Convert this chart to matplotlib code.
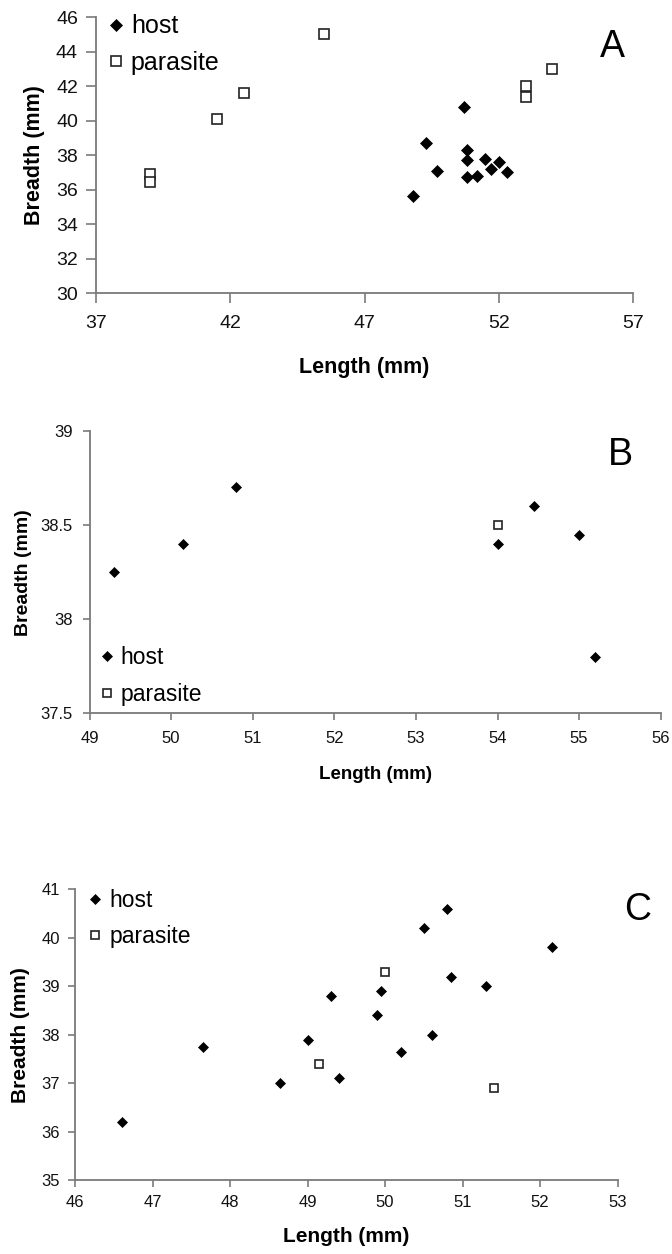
import matplotlib
matplotlib.use("Agg")
import matplotlib.pyplot as plt

plt.rcParams["font.family"] = ["Liberation Sans", "DejaVu Sans"]

# panel A
A_host_len = [50.7, 49.3, 50.8, 50.8, 51.5, 52.0, 51.7, 52.3, 49.7, 50.8, 51.2, 48.8]
A_host_br = [40.8, 38.7, 38.3, 37.7, 37.8, 37.6, 37.2, 37.0, 37.1, 36.7, 36.8, 35.6]
A_par_len = [39.0, 39.0, 41.5, 42.5, 45.5, 54.0, 53.0, 53.0]
A_par_br = [36.9, 36.45, 40.1, 41.6, 45.0, 43.0, 42.0, 41.35]
A_xticks = [37, 42, 47, 52, 57]
A_yticks = [30, 32, 34, 36, 38, 40, 42, 44, 46]

# panel B
B_host_len = [49.3, 50.15, 50.8, 54.45, 54.0, 55.0, 55.2]
B_host_br = [38.25, 38.4, 38.7, 38.6, 38.4, 38.45, 37.8]
B_par_len = [54.0]
B_par_br = [38.5]
B_xticks = [49, 50, 51, 52, 53, 54, 55, 56]
B_yticks = [37.5, 38, 38.5, 39]
B_yticklabels = ["37.5", "38", "38.5", "39"]

# panel C
C_host_len = [46.6, 47.65, 48.65, 49.0, 49.3, 49.4, 49.9, 49.95, 50.2, 50.5, 50.6, 50.8, 50.85, 51.3, 52.15]
C_host_br = [36.2, 37.75, 37.0, 37.9, 38.8, 37.1, 38.4, 38.9, 37.65, 40.2, 38.0, 40.6, 39.2, 39.0, 39.8]
C_par_len = [49.15, 50.0, 51.4]
C_par_br = [37.4, 39.3, 36.9]
C_xticks = [46, 47, 48, 49, 50, 51, 52, 53]
C_yticks = [35, 36, 37, 38, 39, 40, 41]

gray = "#7a7a7a"

fig = plt.figure(figsize=(6.72, 12.54), dpi=100)


def style(ax, tick_fs, ticklen, xpad, ypad):
    for s in ["top", "right"]:
        ax.spines[s].set_visible(False)
    for s in ["left", "bottom"]:
        ax.spines[s].set_color(gray)
        ax.spines[s].set_linewidth(1.3)
    ax.tick_params(direction="out", length=ticklen, width=1.2, color=gray,
                   labelsize=tick_fs, labelcolor="#111111")
    ax.tick_params(axis="x", pad=xpad)
    ax.tick_params(axis="y", pad=ypad)


def draw(ax, hl, hb, pl, pb, ms_d, ms_s):
    ax.plot(hl, hb, ls="none", marker="D", ms=ms_d, mfc="black", mec="black",
            mew=0.5, label="host", clip_on=False)
    ax.plot(pl, pb, ls="none", marker="s", ms=ms_s, mfc="white", mec="#222222",
            mew=1.2, label="parasite", clip_on=False)


# ---- A
axA = fig.add_axes([0.1429, 0.7663, 0.7991, 0.2201])
draw(axA, A_host_len, A_host_br, A_par_len, A_par_br, 6.4, 7.0)
axA.set_xlim(37, 57)
axA.set_ylim(30, 46)
axA.set_xticks(A_xticks)
axA.set_yticks(A_yticks)
style(axA, 14, 7, 9, 6)
axA.set_xlabel("Length (mm)", fontsize=15.5, fontweight="bold", labelpad=18)
axA.set_ylabel("Breadth (mm)", fontsize=15.5, fontweight="bold", labelpad=8)
axA.legend(loc="upper left", bbox_to_anchor=(0.023, 1.01), frameon=False,
           fontsize=18, borderaxespad=0, borderpad=0, handlelength=0.6,
           handletextpad=0.3, labelspacing=0.5, numpoints=1)
axA.text(0.961, 0.891, "A", transform=axA.transAxes, fontsize=27,
         ha="center", va="center")

# ---- B
axB = fig.add_axes([0.1332, 0.4312, 0.850, 0.2251])
draw(axB, B_host_len, B_host_br, B_par_len, B_par_br, 5.5, 6.2)
axB.set_xlim(49, 56)
axB.set_ylim(37.5, 39)
axB.set_xticks(B_xticks)
axB.set_yticks(B_yticks)
axB.set_yticklabels(B_yticklabels)
style(axB, 12, 5, 8, 7)
axB.set_xlabel("Length (mm)", fontsize=13.5, fontweight="bold", labelpad=14)
axB.set_ylabel("Breadth (mm)", fontsize=14, fontweight="bold", labelpad=6)
axB.legend(loc="lower left", bbox_to_anchor=(0.018, 0.025), frameon=False,
           fontsize=16.5, borderaxespad=0, borderpad=0, handlelength=0.6,
           handletextpad=0.3, labelspacing=0.6, numpoints=1)
axB.text(0.929, 0.915, "B", transform=axB.transAxes, fontsize=27,
         ha="center", va="center")

# ---- C
axC = fig.add_axes([0.1116, 0.0590, 0.8076, 0.2318])
draw(axC, C_host_len, C_host_br, C_par_len, C_par_br, 5.5, 6.2)
axC.set_xlim(46, 53)
axC.set_ylim(35, 41)
axC.set_xticks(C_xticks)
axC.set_yticks(C_yticks)
style(axC, 12, 5, 6, 6)
axC.set_xlabel("Length (mm)", fontsize=15, fontweight="bold", labelpad=12)
axC.set_ylabel("Breadth (mm)", fontsize=15, fontweight="bold", labelpad=8)
axC.legend(loc="upper left", bbox_to_anchor=(0.025, 1.0), frameon=False,
           fontsize=16.5, borderaxespad=0, borderpad=0, handlelength=0.6,
           handletextpad=0.3, labelspacing=0.55, numpoints=1)
axC.text(1.036, 0.928, "C", transform=axC.transAxes, fontsize=27,
         ha="center", va="center")

fig.savefig("out.png", dpi=100)
